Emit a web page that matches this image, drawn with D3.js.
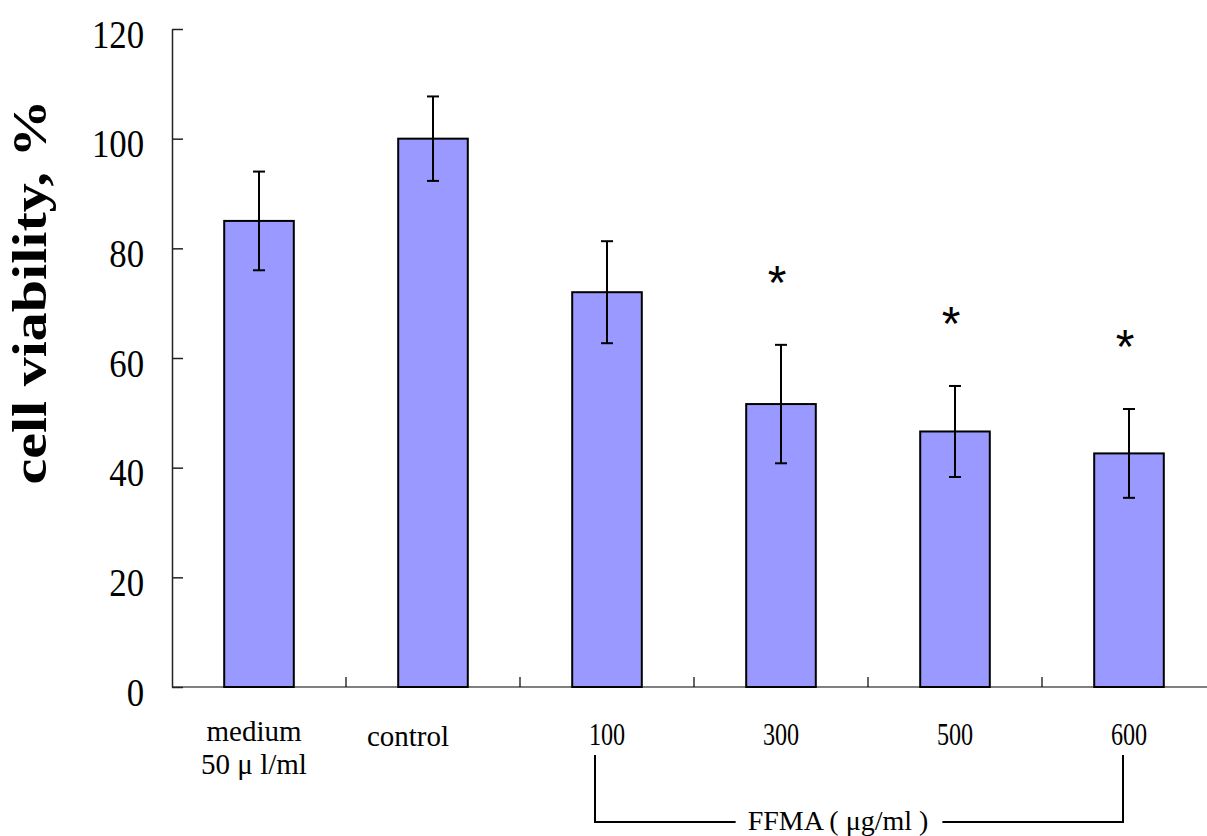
<!DOCTYPE html>
<html>
<head>
<meta charset="utf-8">
<script src="https://cdn.jsdelivr.net/npm/d3@7"></script>
<style>
  body { margin: 0; background: #fff; }
  svg { display: block; }
</style>
</head>
<body>
<div id="chart"></div>
<script>
const categories = ["medium", "control", "100", "300", "500", "600"];
const catLabels = [["medium", "50 μ l/ml"], ["control"], ["100"], ["300"], ["500"], ["600"]];
const means = [85, 100, 72, 51.6, 46.6, 42.6];
const errs = [9, 7.7, 9.3, 10.8, 8.3, 8.1];
const significant = [false, false, false, true, true, true];
const yTicks = [0, 20, 40, 60, 80, 100, 120];
const yTitle = "cell viability, %";
const groupLabel = "FFMA ( μg/ml )";

const width = 1207, height = 836;
const serif = "'Liberation Serif', 'Times New Roman', serif";

const svg = d3.select("#chart").append("svg")
  .attr("width", width)
  .attr("height", height);

const x = d3.scaleBand().domain(categories).range([172, 1216]);
const y = d3.scaleLinear().domain([0, 120]).range([687, 29]);
const bw = x.bandwidth();
const barW = bw * 0.4;
const cx = c => x(c) + bw / 2;

// x axis line + upward ticks at category boundaries
svg.append("line")
  .attr("x1", x.range()[0]).attr("x2", width)
  .attr("y1", y(0)).attr("y2", y(0))
  .attr("stroke", "#808080").attr("stroke-width", 2);

svg.selectAll(".xtick")
  .data(categories.slice(1))
  .enter().append("line")
  .attr("class", "xtick")
  .attr("x1", d => x(d)).attr("x2", d => x(d))
  .attr("y1", y(0)).attr("y2", y(0) - 10)
  .attr("stroke", "#000").attr("stroke-width", 1.2);

// y axis
const yAxis = svg.append("g")
  .attr("transform", `translate(${x.range()[0]},0)`)
  .call(d3.axisLeft(y).tickValues(yTicks).tickSize(-11).tickSizeOuter(0).tickPadding(32));
yAxis.select(".domain").attr("stroke", "#222").attr("stroke-width", 1.5);
yAxis.selectAll(".tick line").attr("stroke", "#222").attr("stroke-width", 1.5);
yAxis.selectAll(".tick text")
  .attr("font-family", serif)
  .attr("font-size", 40)
  .attr("fill", "#000")
  .attr("dy", "0.45em")
  .attr("transform", "scale(0.87,1)");

// bars
svg.selectAll(".bar")
  .data(categories)
  .enter().append("rect")
  .attr("class", "bar")
  .attr("x", d => cx(d) - barW / 2)
  .attr("width", barW)
  .attr("y", (d, i) => y(means[i]))
  .attr("height", (d, i) => y(0) - y(means[i]))
  .attr("fill", "#9999ff")
  .attr("stroke", "#000")
  .attr("stroke-width", 2);

// error bars
const eb = svg.selectAll(".err")
  .data(categories)
  .enter().append("g")
  .attr("class", "err")
  .attr("stroke", "#000")
  .attr("stroke-width", 2);
eb.append("line")
  .attr("x1", d => cx(d)).attr("x2", d => cx(d))
  .attr("y1", (d, i) => y(means[i] + errs[i]))
  .attr("y2", (d, i) => y(means[i] - errs[i]));
eb.append("line")
  .attr("x1", d => cx(d) - 6).attr("x2", d => cx(d) + 6)
  .attr("y1", (d, i) => y(means[i] + errs[i]))
  .attr("y2", (d, i) => y(means[i] + errs[i]));
eb.append("line")
  .attr("x1", d => cx(d) - 6).attr("x2", d => cx(d) + 6)
  .attr("y1", (d, i) => y(means[i] - errs[i]))
  .attr("y2", (d, i) => y(means[i] - errs[i]));

// significance stars
svg.selectAll(".star")
  .data(categories.filter((d, i) => significant[i]))
  .enter().append("text")
  .attr("class", "star")
  .attr("x", d => cx(d) - 4)
  .attr("y", d => { const i = categories.indexOf(d); return y(means[i] + errs[i]) - 46; })
  .attr("text-anchor", "middle")
  .attr("font-family", "'Liberation Sans', Arial, sans-serif")
  .attr("font-size", 48)
  .text("*");

// category labels
const labelShift = { medium: -5, control: -25 };
const cl = svg.selectAll(".clabel")
  .data(categories)
  .enter().append("text")
  .attr("class", "clabel")
  .attr("font-family", serif)
  .attr("text-anchor", "middle")
  .attr("fill", "#000");
cl.each(function(d, i) {
  const t = d3.select(this);
  const lines = catLabels[i];
  const px = cx(d) + (labelShift[d] || 0);
  const numeric = /^\d+$/.test(lines[0]);
  if (numeric) {
    const sx = 0.78;
    t.attr("font-size", 31)
      .attr("transform", `translate(${px},745) scale(${sx},1)`)
      .text(lines[0]);
  } else {
    t.attr("font-size", 29).attr("transform", `translate(${px},${lines.length > 1 ? 741 : 746})`);
    lines.forEach((ln, k) => {
      t.append("tspan").attr("x", 0).attr("y", k * 33).text(ln);
    });
  }
});

// y title
svg.append("text")
  .attr("transform", "translate(46,292) rotate(-90)")
  .attr("text-anchor", "middle")
  .attr("font-family", serif)
  .attr("font-weight", "bold")
  .attr("font-size", 48)
  .attr("textLength", 385)
  .attr("lengthAdjust", "spacingAndGlyphs")
  .text(yTitle);

// FFMA bracket
const bx0 = cx("100") - 12, bx1 = cx("600") - 6;
const bTop = 755, bBot = 822;
const gl = svg.append("text")
  .attr("x", 838).attr("y", 830)
  .attr("text-anchor", "middle")
  .attr("font-family", serif)
  .attr("font-size", 28)
  .text(groupLabel);
const glW = gl.node().getComputedTextLength();
svg.append("path")
  .attr("d", `M${bx0},${bTop}V${bBot}H${838 - glW / 2 - 12}`)
  .attr("fill", "none").attr("stroke", "#000").attr("stroke-width", 2);
svg.append("path")
  .attr("d", `M${838 + glW / 2 + 14},${bBot}H${bx1}V${bTop}`)
  .attr("fill", "none").attr("stroke", "#000").attr("stroke-width", 2);
</script>
</body>
</html>
